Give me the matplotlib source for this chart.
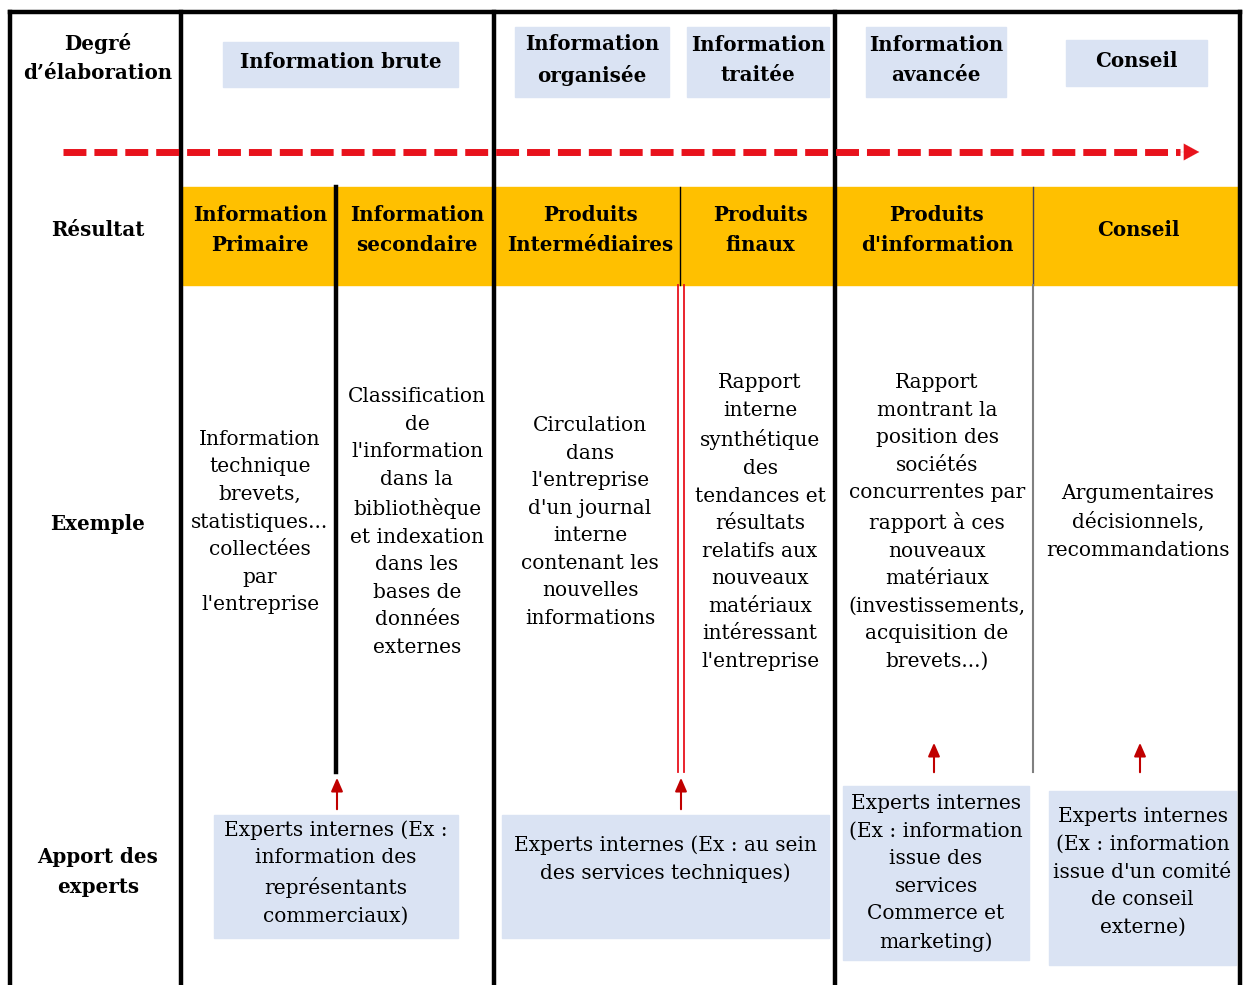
import matplotlib
matplotlib.use("Agg")
import matplotlib.pyplot as plt
from matplotlib.patches import Rectangle

plt.rcParams['font.family'] = ['DejaVu Serif']

# row labels (left column)
row_labels = ["Degré\nd’élaboration", "Résultat", "Exemple", "Apport des\nexperts"]

# degree of elaboration (top light-blue boxes)
degres = ["Information brute", "Information\norganisée", "Information\ntraitée",
          "Information\navancée", "Conseil"]

# results (orange band)
resultats = ["Information\nPrimaire", "Information\nsecondaire", "Produits\nIntermédiaires",
             "Produits\nfinaux", "Produits\nd'information", "Conseil"]

# examples
exemples = [
    "Information\ntechnique\nbrevets,\nstatistiques...\ncollectées\npar\nl'entreprise",
    "Classification\nde\nl'information\ndans la\nbibliothèque\net indexation\ndans les\nbases de\ndonnées\nexternes",
    "Circulation\ndans\nl'entreprise\nd'un journal\ninterne\ncontenant les\nnouvelles\ninformations",
    "Rapport\ninterne\nsynthétique\ndes\ntendances et\nrésultats\nrelatifs aux\nnouveaux\nmatériaux\nintéressant\nl'entreprise",
    "Rapport\nmontrant la\nposition des\nsociétés\nconcurrentes par\nrapport à ces\nnouveaux\nmatériaux\n(investissements,\nacquisition de\nbrevets...)",
    "Argumentaires\ndécisionnels,\nrecommandations",
]

# experts contributions
experts = [
    "Experts internes (Ex :\ninformation des\nreprésentants\ncommerciaux)",
    "Experts internes (Ex : au sein\ndes services techniques)",
    "Experts internes\n(Ex : information\nissue des\nservices\nCommerce et\nmarketing)",
    "Experts internes\n(Ex : information\nissue d'un comité\nde conseil\nexterne)",
]

# layout (pixel coordinates)
row_y = [58, 230, 524, 872]
degre_boxes = [(223, 42, 458, 87), (515, 27, 669, 97), (687, 27, 829, 97),
               (866, 27, 1006, 97), (1066, 40, 1207, 86)]
res_x = [260, 417, 590, 760, 937, 1138]
ex_x = [260, 417, 590, 760, 937, 1138]
ex_y = 522
expert_boxes = [(214, 815, 458, 938), (502, 815, 829, 938),
                (843, 786, 1029, 960), (1049, 791, 1236, 965)]
expert_text_y = [873, 859, 873, 872]
arrows = [(337, 812, 775), (681, 812, 775), (934, 775, 740), (1140, 775, 740)]

BLUE = '#dae3f3'
ORANGE = '#ffc000'
RED = '#e8121c'
DARKRED = '#c00000'
FS_B = 14.3
FS = 14.5
LS = 28 / (FS * 100 / 72 * 0.886)
LS_B = 28 / (FS_B * 100 / 72 * 0.886)

fig = plt.figure(figsize=(12.45, 9.85), dpi=100)
ax = fig.add_axes([0, 0, 1, 1])
ax.set_xlim(0, 1245)
ax.set_ylim(985, 0)
ax.axis('off')

# orange band
ax.add_patch(Rectangle((183, 187), 1238 - 183, 98, color=ORANGE, zorder=1))

# top boxes
for (x0, y0, x1, y1), t in zip(degre_boxes, degres):
    ax.add_patch(Rectangle((x0, y0), x1 - x0, y1 - y0, color=BLUE, zorder=1))
    ax.text((x0 + x1) / 2, (y0 + y1) / 2 - 2, t, ha='center', va='center',
            fontsize=FS_B, fontweight='bold', linespacing=LS_B, zorder=3)

# expert boxes
for (x0, y0, x1, y1), t, ty in zip(expert_boxes, experts, expert_text_y):
    ax.add_patch(Rectangle((x0, y0), x1 - x0, y1 - y0, color=BLUE, zorder=1))
    ax.text((x0 + x1) / 2, ty, t, ha='center', va='center',
            fontsize=FS, linespacing=LS, zorder=3)

# outer frame and main column separators
lw = 3.2
ax.plot([10, 1240], [12, 12], color='black', lw=lw, zorder=4)
for x in [10, 181, 494, 835, 1240]:
    ax.plot([x, x], [12, 985], color='black', lw=lw, zorder=4)

# inner separators
ax.plot([336, 336], [187, 772], color='black', lw=3.2, zorder=2)
ax.plot([680, 680], [187, 285], color='black', lw=1, zorder=2)
ax.plot([678, 678], [285, 772], color=RED, lw=1.3, zorder=2)
ax.plot([684, 684], [285, 772], color=RED, lw=1.3, zorder=2)
ax.plot([1033, 1033], [187, 285], color='#404060', lw=1, zorder=2)
ax.plot([1033, 1033], [285, 772], color='#808080', lw=1.5, zorder=2)

# red dashed arrow
ax.plot([63, 1180], [152, 152], color=RED, lw=5, dashes=(3.3, 1.15), zorder=5)
ax.annotate('', xy=(1202, 152), xytext=(1176, 152),
            arrowprops=dict(arrowstyle='-|>,head_length=1.1,head_width=0.6',
                            color=RED, lw=0.1), zorder=5)

# small red arrows
for x, y0, y1 in arrows:
    ax.annotate('', xy=(x, y1), xytext=(x, y0),
                arrowprops=dict(arrowstyle='-|>,head_length=0.8,head_width=0.35',
                                color=DARKRED, lw=1.5), zorder=5)

# row labels
for t, y in zip(row_labels, row_y):
    ax.text(98, y, t, ha='center', va='center', fontsize=FS_B,
            fontweight='bold', linespacing=LS_B, zorder=3)

# results
for t, x in zip(resultats, res_x):
    ax.text(x, 230, t, ha='center', va='center', fontsize=FS_B,
            fontweight='bold', linespacing=LS_B, zorder=3)

# examples
for t, x in zip(exemples, ex_x):
    ax.text(x, ex_y, t, ha='center', va='center', fontsize=FS,
            linespacing=LS, zorder=3)

fig.savefig('out.png', dpi=100)
